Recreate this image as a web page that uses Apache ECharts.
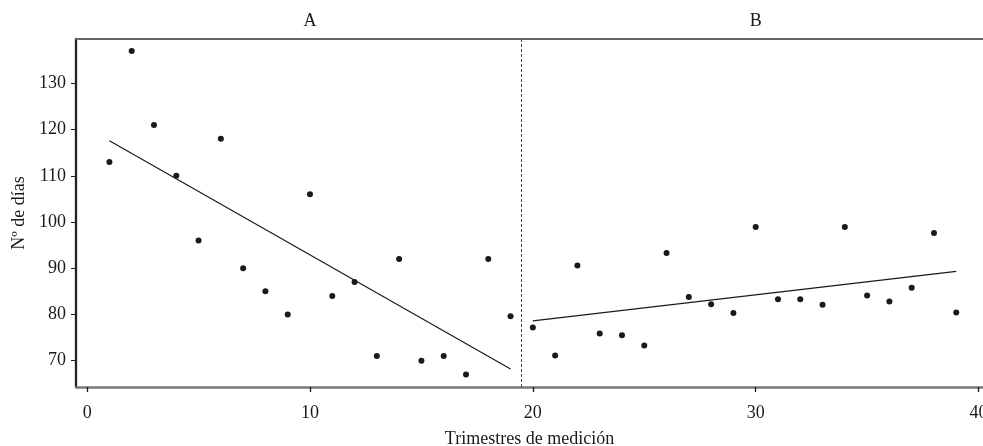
<!DOCTYPE html>
<html>
<head>
<meta charset="utf-8">
<script src="https://cdn.jsdelivr.net/npm/echarts@6/dist/echarts.min.js"></script>
<style>
  html, body { margin: 0; padding: 0; background: #fff; }
  #chart { width: 983px; height: 446px; }
</style>
</head>
<body>
<div id="chart"></div>
<script>
// trimestres and days
const phaseA = [
  [1, 113], [2, 137], [3, 121], [4, 110], [5, 96], [6, 118], [7, 90],
  [8, 85], [9, 80], [10, 106], [11, 84], [12, 87], [13, 71], [14, 92],
  [15, 70], [16, 71], [17, 67], [18, 92], [19, 79.6]
];
const phaseB = [
  [20, 77.2], [21, 71.1], [22, 90.6], [23, 75.9], [24, 75.5], [25, 73.3],
  [26, 93.3], [27, 83.8], [28, 82.2], [29, 80.3], [30, 98.9], [31, 83.3],
  [32, 83.3], [33, 82.1], [34, 98.9], [35, 84.1], [36, 82.8], [37, 85.8],
  [38, 97.6], [39, 80.4]
];
// fitted trend lines (end points)
const fitA = [[1, 117.6], [19, 68.2]];
const fitB = [[20, 78.6], [39, 89.3]];
const phaseCut = 19.5;
const panelLabels = ['A', 'B'];
const panelX = [10, 30];
const xTicks = [0, 10, 20, 30, 40];
const yTicks = [70, 80, 90, 100, 110, 120, 130];

const font = 'Liberation Serif';
const ink = '#1a1a1a';

const chart = echarts.init(document.getElementById('chart'));

const option = {
  animation: false,
  grid: { left: 76, right: 0, top: 39, bottom: 59, containLabel: false, outerBoundsMode: 'none' },
  xAxis: [{
    type: 'value',
    min: -0.5,
    max: 40.2,
    name: 'Trimestres de medición',
    nameLocation: 'middle',
    nameGap: 43,
    nameTextStyle: { fontFamily: font, fontSize: 18, color: ink },
    axisLine: { show: true, onZero: false, lineStyle: { color: '#777', width: 2.5 } },
    axisTick: { show: true, customValues: xTicks, length: 5, lineStyle: { color: ink, width: 1.3 } },
    axisLabel: { customValues: xTicks, margin: 17, fontFamily: font, fontSize: 18, color: ink },
    splitLine: { show: false }
  }, {
    type: 'value',
    position: 'top',
    min: -0.5,
    max: 40.2,
    axisLine: { show: true, onZero: false, lineStyle: { color: '#666', width: 2 } },
    axisTick: { show: false },
    axisLabel: { show: false },
    splitLine: { show: false }
  }],
  yAxis: {
    type: 'value',
    min: 64.3,
    max: 139.6,
    name: 'Nº de días',
    nameLocation: 'middle',
    nameGap: 48,
    nameTextStyle: { fontFamily: font, fontSize: 18, color: ink },
    axisLine: { show: true, onZero: false, lineStyle: { color: '#222', width: 2.3 } },
    axisTick: { show: true, customValues: yTicks, length: 5, lineStyle: { color: ink, width: 1 } },
    axisLabel: { customValues: yTicks, margin: 10, fontFamily: font, fontSize: 18, color: ink },
    splitLine: { show: false }
  },
  series: [
    {
      type: 'scatter',
      data: phaseA,
      symbolSize: 6,
      itemStyle: { color: ink, opacity: 1 },
      markLine: {
        silent: true,
        symbol: 'none',
        label: { show: false },
        lineStyle: { color: '#444', type: [3, 2], width: 1 },
        data: [{ xAxis: phaseCut }]
      }
    },
    { type: 'scatter', data: phaseB, symbolSize: 6, itemStyle: { color: ink, opacity: 1 } },
    { type: 'line', data: fitA, symbol: 'none', lineStyle: { color: ink, width: 1.2 } },
    { type: 'line', data: fitB, symbol: 'none', lineStyle: { color: ink, width: 1.2 } }
  ]
};
chart.setOption(option);

// panel labels centred above x = 10 and x = 30
chart.setOption({
  graphic: panelLabels.map((t, i) => ({
    type: 'text',
    x: chart.convertToPixel({ xAxisIndex: 0 }, panelX[i]),
    y: 21,
    style: {
      text: t, fontFamily: font, fontSize: 18, fill: ink,
      align: 'center', verticalAlign: 'middle'
    }
  }))
});
</script>
</body>
</html>
